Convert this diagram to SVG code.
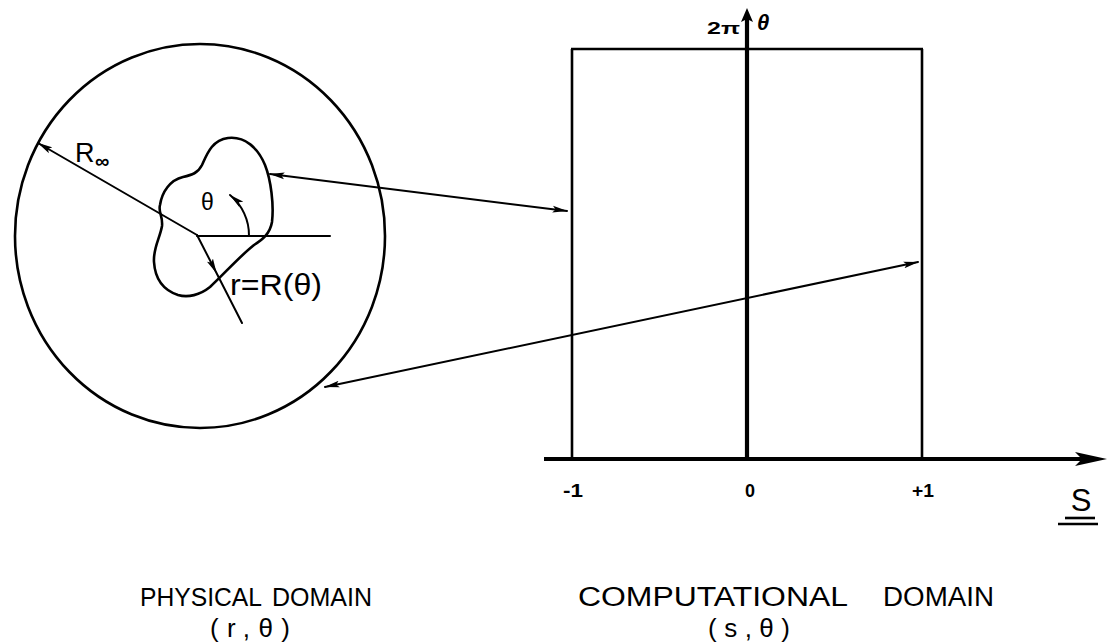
<svg xmlns="http://www.w3.org/2000/svg" width="1110" height="642" viewBox="0 0 1110 642">
<style>
.ln{fill:none;stroke:#000;stroke-width:2;stroke-linecap:round}
.thk{fill:none;stroke:#000;stroke-width:2.6}
.ax{fill:none;stroke:#000;stroke-width:4.2}
.t{font-family:"Liberation Sans",Arial,sans-serif;fill:#000}
.b{font-weight:bold}
.cap{font-size:27px}
.cap2{font-size:25px}
.par{font-size:26px}
</style>
<defs>
<marker id="arr" viewBox="0 0 15 8" refX="14.5" refY="4" markerWidth="15" markerHeight="8" markerUnits="userSpaceOnUse" orient="auto-start-reverse">
<path d="M0,0.6 L15,4 L0,7.4 L3,4 Z" fill="#000"/>
</marker>
</defs>
<rect width="1110" height="642" fill="#fff"/>

<g id="physical-domain">
<ellipse cx="200" cy="236" rx="185" ry="192" class="thk"/>
<path class="thk" d="M160,205 C162,192 170,180 183,177 C192,175 198,173 202,165 C207,154 212,140 228,138 C245,136 258,148 265,165 C271,180 274,205 272,222 C270,234 262,240 254,245 C240,256 225,273 210,287 C200,295 188,298 178,295 C163,290 155,278 154,262 C153,248 160,238 162,226 C163,216 158,212 160,205 Z"/>
<line class="ln" x1="197" y1="236" x2="330" y2="236"/>
<line class="ln" x1="197" y1="235" x2="38" y2="143" marker-end="url(#arr)"/>
<path class="ln" d="M197,235 L216.5,273 L242,323" marker-mid="url(#arr)"/>
<path class="ln" d="M249,236 A52,52 0 0 0 230,195" marker-end="url(#arr)"/>
<text class="t" x="75" y="162" font-size="27">R</text>
<text class="t b" x="95" y="168" font-size="20">∞</text>
<text class="t" x="201" y="210" font-size="23">θ</text>
<text class="t" x="230" y="295" font-size="30" textLength="92" lengthAdjust="spacingAndGlyphs">r=R(θ)</text>
</g>

<g id="computational-domain">
<line class="thk" x1="571" y1="49" x2="923" y2="49"/>
<line class="thk" x1="572" y1="49" x2="572" y2="459"/>
<line class="thk" x1="922" y1="49" x2="922" y2="459"/>
<line class="ax" x1="747" y1="459" x2="747" y2="18"/>
<polygon points="747,8 741,22 747,19 753,22" fill="#000"/>
<line class="ax" x1="544" y1="459" x2="1085" y2="459"/>
<polygon points="1107,459 1075,452 1082,459 1075,466" fill="#000"/>
<text class="t b" x="707" y="34" font-size="17" textLength="33" lengthAdjust="spacingAndGlyphs">2π</text>
<text class="t b" x="757" y="30" font-size="22" font-style="italic">θ</text>
<text class="t b" x="563" y="497" font-size="18" textLength="20" lengthAdjust="spacingAndGlyphs">-1</text>
<text class="t b" x="750" y="497" font-size="18" text-anchor="middle">0</text>
<text class="t b" x="912" y="497" font-size="18" textLength="22" lengthAdjust="spacingAndGlyphs">+1</text>
<text class="t" x="1081" y="511" font-size="31" text-anchor="middle">S</text>
<line class="thk" x1="1065" y1="518" x2="1095" y2="518"/>
<line class="thk" x1="1058" y1="524" x2="1098" y2="524"/>
</g>

<g id="connectors">
<line class="ln" x1="270" y1="174" x2="567" y2="211" marker-start="url(#arr)" marker-end="url(#arr)"/>
<line class="ln" x1="325" y1="387" x2="918" y2="262" marker-start="url(#arr)" marker-end="url(#arr)"/>
</g>

<g id="captions">
<text class="t cap2" x="140" y="606" textLength="122" lengthAdjust="spacingAndGlyphs">PHYSICAL</text>
<text class="t cap2" x="272" y="606" textLength="100" lengthAdjust="spacingAndGlyphs">DOMAIN</text>
<text class="t par" x="210" y="637" textLength="80" lengthAdjust="spacing">(r,θ)</text>
<text class="t cap" x="578" y="606" textLength="270" lengthAdjust="spacingAndGlyphs">COMPUTATIONAL</text>
<text class="t cap" x="883" y="606" textLength="111" lengthAdjust="spacingAndGlyphs">DOMAIN</text>
<text class="t par" x="708" y="637" textLength="82" lengthAdjust="spacing">(s,θ)</text>
</g>
</svg>
